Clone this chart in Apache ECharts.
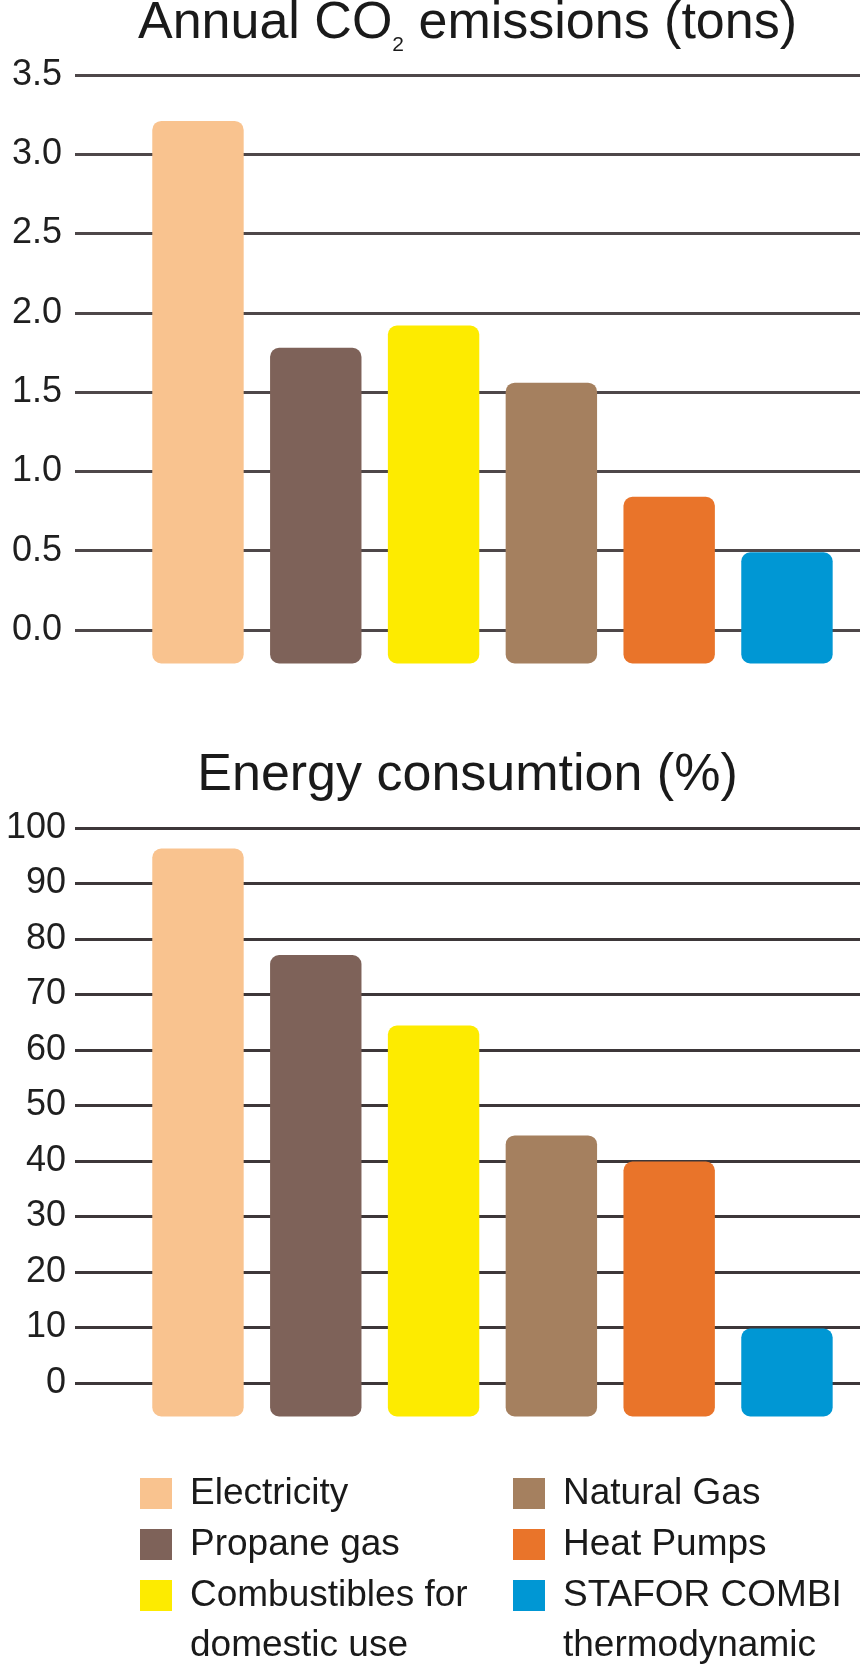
<!DOCTYPE html>
<html><head><meta charset="utf-8">
<script src="https://cdn.jsdelivr.net/npm/echarts@6/dist/echarts.min.js"></script>
<style>html,body{margin:0;padding:0;background:#fff}#c{width:860px;height:1669px}</style>
</head><body><div id="c"></div>
<script>
// ---- data ----
const categories = ['Electricity', 'Propane gas', 'Combustibles for\ndomestic use', 'Natural Gas', 'Heat Pumps', 'STAFOR COMBI\nthermodynamic'];
const colors = ['#f9c38f', '#7e6259', '#fdeb00', '#a5805f', '#e9742a', '#0097d4'];
const co2Values = [3.21, 1.78, 1.92, 1.56, 0.84, 0.49];
const energyValues = [96.3, 77.1, 64.4, 44.6, 39.9, 9.8];
const co2TickLabels = ['0.0', '0.5', '1.0', '1.5', '2.0', '2.5', '3.0', '3.5'];
const energyTickLabels = ['0', '10', '20', '30', '40', '50', '60', '70', '80', '90', '100'];
const co2Title = 'Annual CO{sub|2} emissions (tons)';
const energyTitle = 'Energy consumtion (%)';

// ---- style ----
const FONT = "'Liberation Sans', Arial, sans-serif";
const BAR_RATIO = 0.776;
const BAR_DROP = 33.5;

function renderBar(params, api) {
  const x = api.value(0), v = api.value(1);
  const top = api.coord([x, v]);
  const base = api.coord([x, 0]);
  const w = api.size([1, 0])[0] * BAR_RATIO;
  return {
    type: 'rect',
    shape: { x: top[0] - w / 2, y: top[1], width: w, height: base[1] + BAR_DROP - top[1], r: 9 },
    style: { fill: api.visual('color') }
  };
}

const series = [];
[co2Values, energyValues].forEach((vals, g) => {
  categories.forEach((name, i) => {
    series.push({
      type: 'custom', name: name, xAxisIndex: g, yAxisIndex: g, clip: false, silent: true,
      itemStyle: { color: colors[i] },
      data: [[i, vals[i]]],
      renderItem: renderBar
    });
  });
});

const legends = categories.map((name, i) => {
  const col = Math.floor(i / 3), row = i % 3;
  const c = 1493.5 + row * 51;
  const twoLine = name.indexOf('\n') >= 0;
  return {
    data: [name], left: [140, 513][col], top: twoLine ? c - 75 : c - 25,
    orient: 'vertical', padding: 0, itemWidth: 32, itemHeight: 31, icon: 'rect',
    selectedMode: false,
    itemStyle: { borderWidth: 0 },
    formatter: twoLine ? (n => '\n' + n) : (n => n),
    textStyle: { fontFamily: FONT, fontSize: 37, color: '#1a1a1a', lineHeight: 50, padding: [0, 0, 0, 13] }
  };
});

const xAxisBase = { type: 'value', min: -1.044, max: 5.62, show: false, splitLine: { show: false } };
function yAxisOf(max, interval, labels, lineColor, margin) {
  return {
    type: 'value', min: 0, max: max, interval: interval,
    axisLine: { show: false }, axisTick: { show: false },
    axisLabel: { fontFamily: FONT, fontSize: 36, color: '#1f1f1f', margin: margin,
      formatter: v => labels[Math.round(v / interval)] },
    splitLine: { lineStyle: { color: lineColor, width: 3 } }
  };
}

const title1Style = { fontFamily: FONT, fontSize: 52, fontWeight: 'normal', color: '#1a1a1a', lineHeight: 51,
  rich: { sub: { fontFamily: FONT, fontSize: 21, lineHeight: 63, verticalAlign: 'bottom', color: '#1a1a1a' } } };
const title2Style = { fontFamily: FONT, fontSize: 52, fontWeight: 'normal', color: '#1a1a1a', lineHeight: 51 };

const option = {
  backgroundColor: '#ffffff',
  animation: false,
  title: [
    { text: co2Title, left: 467.5, top: -7.5, textAlign: 'center', textVerticalAlign: 'top', padding: 0, textStyle: title1Style },
    { text: energyTitle, left: 467.5, top: 750, textAlign: 'center', textVerticalAlign: 'top', padding: 0, textStyle: title2Style }
  ],
  legend: legends,
  grid: [
    { left: 75, right: 0, top: 75, height: 555 },
    { left: 75, right: 0, top: 828, height: 555 }
  ],
  xAxis: [Object.assign({ gridIndex: 0 }, xAxisBase), Object.assign({ gridIndex: 1 }, xAxisBase)],
  yAxis: [
    Object.assign({ gridIndex: 0 }, yAxisOf(3.5, 0.5, co2TickLabels, '#4e4749', 13)),
    Object.assign({ gridIndex: 1 }, yAxisOf(100, 10, energyTickLabels, '#3d3739', 9))
  ],
  series: series
};

const chart = echarts.init(document.getElementById('c'), null, { renderer: 'canvas' });
chart.setOption(option);
</script></body></html>
